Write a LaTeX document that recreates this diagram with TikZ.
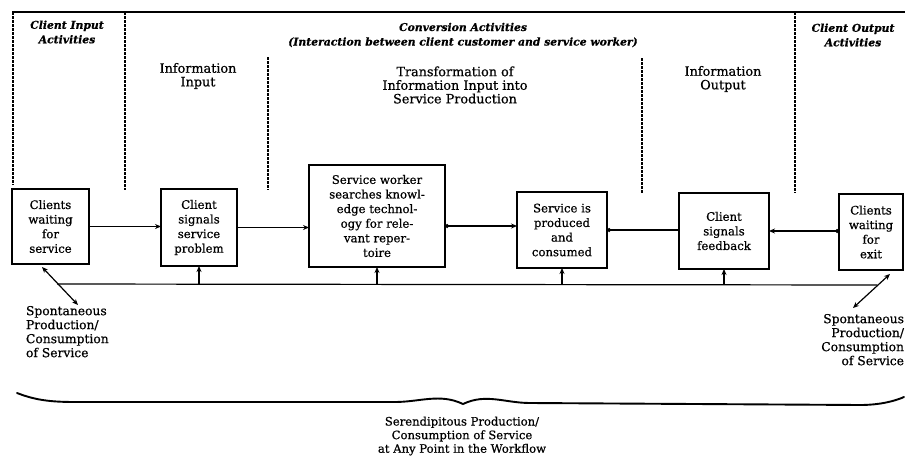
\documentclass[tikz,border=0pt]{standalone}
\usepackage{fontspec}
\setmainfont{DejaVu Serif}[FakeBold=0.6]
\usetikzlibrary{arrows.meta}
\begin{document}
\begin{tikzpicture}[x=1pt,y=-1pt,
  every node/.style={inner sep=0pt, outer sep=0pt},
  stagebox/.style={draw, line width=1.4pt, align=center,
    font=\fontsize{11.7}{14.6}\selectfont},
  header/.style={align=center, font=\fontsize{10.8}{14.5}\selectfont\bfseries\itshape},
  phase/.style={align=center, font=\fontsize{12.8}{13.6}\selectfont},
  note/.style={font=\fontsize{12.3}{14}\selectfont},
  caption/.style={font=\fontsize{11.6}{13.6}\selectfont},
  divider/.style={line width=2pt, dash pattern=on 3pt off 1pt},
  flow/.style={line width=1.2pt},
  tip/.style={-{Stealth[length=6pt,width=5pt]}},
]
\useasboundingbox (0,0) rectangle (905,458);

% top rule and the dashed dividers between activity zones
\coordinate (tl) at (12,12);
\coordinate (tr) at (905,12);
\draw[line width=1.6pt] (tl) -- (tr);
\coordinate (d1a) at (13,12);   \coordinate (d1b) at (13,185);
\coordinate (d2a) at (125,12);  \coordinate (d2b) at (125,190);
\coordinate (d3a) at (268,57);  \coordinate (d3b) at (268,190);
\coordinate (d4a) at (642,58);  \coordinate (d4b) at (642,193);
\coordinate (d5a) at (795,12);  \coordinate (d5b) at (795,193);
\foreach \d in {d1,d2,d3,d4,d5} \draw[divider] (\d a) -- (\d b);

% zone headings
\node[header] (hin) at (67,32) {Client Input\\Activities};
\node[header] (hconv) at (463,35) {Conversion Activities\\(Interaction between client customer and service worker)};
\node[header] (hout) at (853,35) {Client Output\\Activities};
\node[phase] (pin) at (198,76) {Information\\Input};
\node[phase] (ptr) at (455,85) {Transformation of\\Information Input into\\Service Production};
\node[phase] (pout) at (723,79) {Information\\Output};

% workflow stages
\node[stagebox, minimum width=77pt, minimum height=75pt] (b1) at (50.5,226.5) {Clients\\waiting\\for\\service};
\node[stagebox, minimum width=76pt, minimum height=77pt] (b2) at (199,227.5) {Client\\signals\\service\\problem};
\node[stagebox, minimum width=136pt, minimum height=102pt] (b3) at (377,216) {Service worker\\searches knowl-\\edge technol-\\ogy for rele-\\vant reper-\\toire};
\node[stagebox, minimum width=90pt, minimum height=76pt] (b4) at (562,230) {Service is\\produced\\and\\consumed};
\node[stagebox, minimum width=90pt, minimum height=76pt] (b5) at (724,231) {Client\\signals\\feedback};
\node[stagebox, minimum width=64pt, minimum height=76pt] (b6) at (871,232) {Clients\\waiting\\for\\exit};

% flow between stages
\draw[flow, tip] (b1.east) -- (b1.east -| b2.west);
\draw[flow, tip] (b2.east) -- (b2.east -| b3.west);
\draw[flow, {Circle[length=4pt]}-{Stealth[length=6pt,width=5pt]}] ([yshift=-10pt]b3.east) -- ([yshift=-10pt]b3.east -| b4.west);
\draw[flow, {Circle[length=4pt]}-] (b4.east) -- (b4.east -| b5.west);
\draw[flow, {Stealth[length=6pt,width=5pt]}-{Circle[length=4pt]}] (b5.east) -- (b5.east -| b6.west);

% feedback bus along the bottom
\coordinate (busL) at (57,284);
\coordinate (busR) at (877,285);
\draw[flow] (busL) -- (busR);
\foreach \b in {b2,b3,b4,b5}
  \draw[flow, tip] (\b.south |- busL) -- (\b.south);

% spontaneous production at either end
\coordinate (sl1) at (42,267);
\coordinate (sl2) at (78,305);
\draw[flow, {Stealth[length=6pt,width=5pt]}-{Stealth[length=6pt,width=5pt]}] (sl1) -- (sl2);
\coordinate (sr1) at (890,274);
\coordinate (sr2) at (853,308);
\draw[flow, {Stealth[length=6pt,width=5pt]}-{Stealth[length=6pt,width=5pt]}] (sr1) -- (sr2);
\node[note, align=left, anchor=north west] (spl) at (26,306) {Spontaneous\\Production/\\Consumption\\of Service};
\node[note, align=right, anchor=north east] (spr) at (904,314) {Spontaneous\\Production/\\Consumption\\of Service};

% brace spanning the whole workflow
\draw[line width=1.9pt, line cap=round]
  (17,393) .. controls (35,400) and (50,402) .. (75,402)
  -- (395,402) .. controls (420,402) and (440,393) .. (463,404)
  .. controls (486,393) and (505,403) .. (530,403)
  -- (860,405) .. controls (880,405) and (895,401) .. (904,397);
\node[caption, align=center] (ser) at (462,436) {Serendipitous Production/\\Consumption of Service\\at Any Point in the Workflow};
\end{tikzpicture}
\end{document}
